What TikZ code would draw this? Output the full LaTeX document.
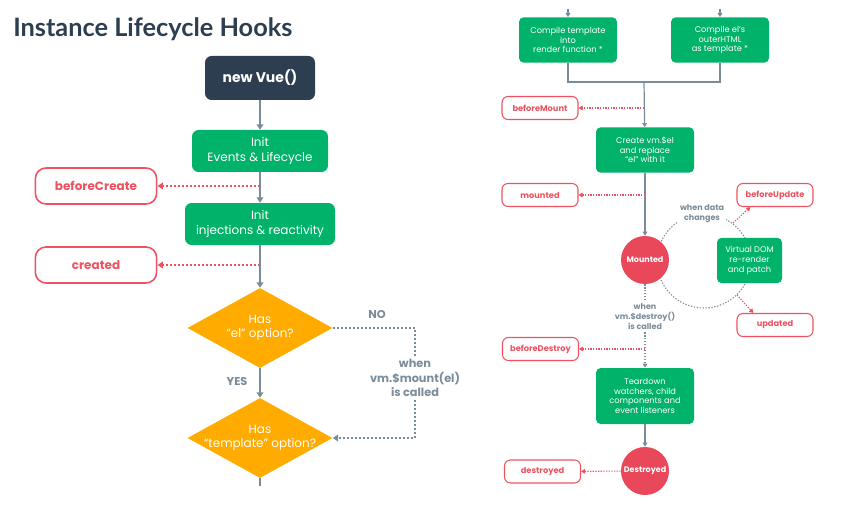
\documentclass[tikz,border=0pt]{standalone}
\usepackage{fontspec}
\setmainfont{Poppins}
\newfontfamily\titlefont{Lato}
\usepackage{tikz}
\usetikzlibrary{arrows.meta, shapes.geometric}

\definecolor{vuedark}{RGB}{44,62,80}
\definecolor{vuegreen}{RGB}{0,178,106}
\definecolor{vuered}{RGB}{232,72,90}
\definecolor{hookred}{RGB}{238,82,96}
\definecolor{vueorange}{RGB}{255,171,0}
\definecolor{linegray}{RGB}{122,140,154}

\begin{document}
\begin{tikzpicture}[x=0.75pt, y=-0.75pt,
  startbox/.style={rectangle, rounded corners=5pt, fill=vuedark, text=white,
    minimum width=82.5pt, minimum height=33pt, font=\bfseries\fontsize{10.5}{12}\selectfont},
  leftbox/.style={rectangle, rounded corners=5pt, fill=vuegreen, text=white, align=center,
    minimum width=102pt, minimum height=31.5pt, inner sep=0pt, font=\fontsize{9}{11}\selectfont},
  lefthook/.style={rectangle, rounded corners=8pt, draw=hookred, line width=1.2pt, text=hookred,
    minimum width=91pt, minimum height=27pt, font=\bfseries\fontsize{9}{11}\selectfont},
  decision/.style={diamond, fill=vueorange, minimum width=108.75pt, minimum height=60pt, inner sep=0pt},
  dtext/.style={text=white, align=center, inner sep=0pt, font=\fontsize{9}{11}\selectfont},
  leftnote/.style={text=linegray, align=center, inner sep=2pt, font=\bfseries\fontsize{8.5}{11}\selectfont},
  flow/.style={draw=linegray, line width=1.5pt, -{Triangle[length=4pt,width=5pt]}},
  hookline/.style={draw=hookred, line width=1.2pt, dash pattern=on 1.5pt off 1.5pt,
    -{Triangle[length=4pt,width=5pt]}},
  notepath/.style={draw=linegray, line width=1.3pt, dash pattern=on 1.5pt off 1.5pt},
  rightbox/.style={rectangle, rounded corners=3.5pt, fill=vuegreen, text=white, align=center,
    minimum width=73.5pt, minimum height=34pt, inner sep=0pt, font=\fontsize{6.2}{7.3}\selectfont},
  righthook/.style={rectangle, rounded corners=4.5pt, draw=hookred, line width=0.8pt, text=hookred,
    minimum width=57pt, minimum height=17.25pt, inner sep=0pt, font=\bfseries\fontsize{6.2}{7.3}\selectfont},
  redcircle/.style={circle, fill=vuered, text=white, minimum size=36pt, inner sep=0pt,
    font=\bfseries\fontsize{6}{7}\selectfont},
  rightnote/.style={text=linegray, align=center, inner sep=1.5pt, font=\bfseries\fontsize{6}{7.5}\selectfont},
  flowright/.style={draw=linegray, line width=0.9pt, -{Triangle[length=3pt,width=3.5pt]}},
  hookright/.style={draw=hookred, line width=0.8pt, dash pattern=on 1pt off 1pt,
    -{Triangle[length=3pt,width=3.5pt]}},
  noteright/.style={draw=linegray, line width=0.8pt, dash pattern=on 1pt off 1.2pt}]
  \useasboundingbox (0,0) rectangle (856,506);

  % titulo
  \node[anchor=base west, inner sep=0pt, text=vuedark,
        font=\titlefont\bfseries\fontsize{19}{22}\selectfont] (title) at (13,37) {Instance Lifecycle Hooks};

  % coluna esquerda
  \node[startbox] (newvue) at (260,78) {new Vue()};
  \node[leftbox] (initevents) at (260,151) {Init\\Events \& Lifecycle};
  \node[leftbox, minimum width=112.5pt] (initinject) at (260,224) {Init\\injections \& reactivity};
  \node[lefthook] (beforecreate) at (96,186) {beforeCreate};
  \node[lefthook] (created) at (96,265) {created};
  \node[decision, label={[dtext]center:Has\\“el” option?}] (hasel) at (260,328) {};
  \node[decision, label={[dtext]center:Has\\“template” option?}] (hastemplate) at (260,438) {};
  \node[leftnote] (nolabel) at (377,315) {NO};
  \node[leftnote] (yeslabel) at (237,382) {YES};
  \node[leftnote] (mountnote) at (415,378) {when\\vm.\$mount(el)\\is called};
  \coordinate (tail) at (260,486);

  \draw[flow] (newvue) -- (initevents);
  \draw[flow] (initevents) -- (initinject);
  \draw[flow] (initinject) -- (hasel);
  \draw[flow] (hasel) -- (hastemplate);
  \draw[draw=linegray, line width=1.5pt] (hastemplate.south) -- (tail);
  \draw[hookline] (initevents.south |- beforecreate.east) -- (beforecreate.east);
  \draw[hookline] (initinject.south |- created.east) -- (created.east);
  \draw[notepath] (hasel.east) -| (mountnote.north);
  \draw[notepath, -{Triangle[length=4pt,width=5pt]}] (mountnote.south) |- (hastemplate.east);

  % coluna direita: ciclo de update
  \coordinate (loopc) at (704,261);
  \draw[noteright] (loopc) circle (35.25pt);

  \node[rightbox] (compiletpl) at (568,40) {Compile template\\into\\render function *};
  \node[rightbox] (compileel) at (720,40) {Compile el’s\\outerHTML\\as template *};
  \node[righthook] (beforemount) at (540,108) {beforeMount};
  \node[rightbox] (createel) at (645,150) {Create vm.\$el\\and replace\\“el” with it};
  \node[righthook] (mountedhook) at (540,195) {mounted};
  \node[redcircle] (mountedc) at (645,260) {Mounted};
  \node[rightbox, minimum width=48.75pt] (vdom) at (749.5,260.5) {Virtual DOM\\re-render\\and patch};
  \node[righthook] (beforeupdate) at (775,195) {beforeUpdate};
  \node[righthook] (updated) at (775,325) {updated};
  \node[rightnote, fill=white] (datanote) at (702,214) {when data\\changes};
  \node[rightnote] (destroynote) at (645,317) {when\\vm.\$destroy()\\is called};
  \node[righthook] (beforedestroy) at (540.5,349) {beforeDestroy};
  \node[rightbox, minimum height=42pt] (teardown) at (645,396) {Teardown\\watchers, child\\components and\\event listeners};
  \node[redcircle] (destroyedc) at (645,471) {Destroyed};
  \node[righthook] (destroyed) at (542.5,471.5) {destroyed};

  \coordinate (intpl) at (568,9);
  \coordinate (inel) at (720,9);
  \coordinate (join) at (644,82);
  \coordinate (upstart) at (733,223);
  \coordinate (updstart) at (737,295);

  \draw[flowright] (intpl) -- (compiletpl);
  \draw[flowright] (inel) -- (compileel);
  \draw[draw=linegray, line width=0.9pt] (compiletpl) |- (join) -| (compileel);
  \draw[flowright] (join) -- (createel);
  \draw[hookright] (join |- beforemount.east) -- (beforemount.east);
  \draw[flowright] (createel) -- (mountedc);
  \draw[hookright] (createel.south |- mountedhook.east) -- (mountedhook.east);
  \draw[hookright] (upstart) -- (beforeupdate.206);
  \draw[hookright] (updstart) -- (updated.151);
  \draw[noteright] (mountedc) -- (destroynote);
  \draw[noteright, -{Triangle[length=3pt,width=3.5pt]}] (destroynote) -- (teardown);
  \draw[hookright] (destroynote.south |- beforedestroy.east) -- (beforedestroy.east);
  \draw[flowright] (teardown) -- (destroyedc);
  \draw[hookright] (destroyedc) -- (destroyed);
\end{tikzpicture}
\end{document}
